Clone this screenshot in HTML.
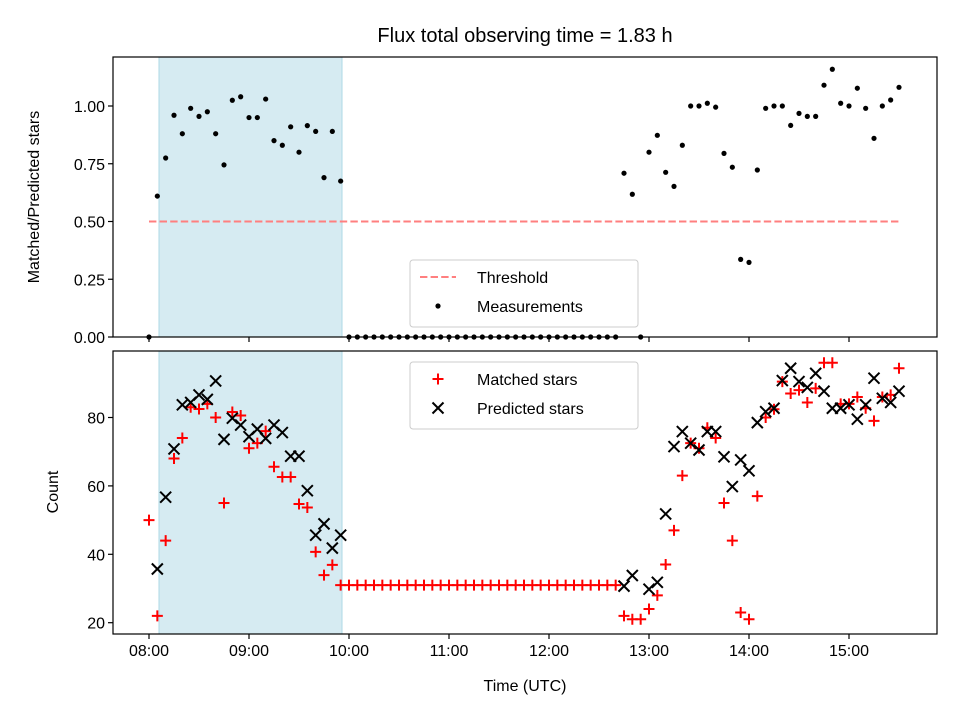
<!DOCTYPE html>
<html><head><meta charset="utf-8"><style>
html,body{margin:0;padding:0;background:#fff}
svg text{font-family:"Liberation Sans","DejaVu Sans",sans-serif}
</style></head><body>
<svg id="c" width="960" height="720" xmlns="http://www.w3.org/2000/svg"></svg>
<script>
// data: index i -> time 08:00 + 5*i minutes
const ratioIdx=[0,1,2,3,4,5,6,7,8,9,10,11,12,13,14,15,16,17,18,19,20,21,22,23,57,58,59,60,61,62,63,64,65,66,67,68,69,70,71,72,73,74,75,76,77,78,79,80,81,82,83,84,85,86,87,88,89,90];
const ratioVals=[0,0.61,0.775,0.96,0.88,0.99,0.955,0.975,0.88,0.745,1.025,1.04,0.95,0.95,1.03,0.85,0.83,0.91,0.80,0.915,0.89,0.69,0.89,0.675,0.709,0.618,0,0.80,0.873,0.713,0.652,0.83,1.0,1.0,1.012,0.995,0.795,0.735,0.336,0.323,0.723,0.99,1.0,1.0,0.916,0.968,0.955,0.955,1.09,1.159,1.012,1.0,1.077,0.99,0.86,1.0,1.026,1.081];
const zeroStart=24, zeroEnd=56;
const matchedHead=[50,22,44,68,74,83,82.5,84,80,55,81.6,80.6,71,72.5,76,65.6,62.6,62.6,54.7,53.7,40.7,33.9,36.9,31];
const matchedTail=[22,21,21,24,28,37,47,63,72.5,71,77,74,55,44,23,21,57,80,82.4,90.5,87,88,84.4,88.5,96,96,84,84,86,82.7,79,86,86.6,94.4];
const flatValue=31;
const predHead=[null,35.7,56.7,70.8,83.7,84.4,86.6,85.3,90.7,73.6,79.8,77.8,74.4,76.6,73.9,77.8,75.6,68.7,68.7,58.6,45.6,48.9,41.8,45.6];
const predTail=[30.7,33.8,null,29.8,31.8,51.8,71.5,75.9,72.5,70.5,75.9,75.9,68.5,59.8,67.6,64.4,78.5,81.7,82.7,90.8,94.4,90.5,88.8,92.9,87.7,82.7,82.7,83.7,79.5,83.7,91.5,85.6,84.4,87.7];
const tailStart=57;
const xTickLabels=["08:00","09:00","10:00","11:00","12:00","13:00","14:00","15:00"];
const topTicks=[0,0.25,0.5,0.75,1.0];
const botTicks=[20,40,60,80];
const threshold=0.5;
const spanStart=0.1, spanEnd=1.93; // hours after 08:00
const lastIdx=90;

const NS="http://www.w3.org/2000/svg";
const svg=document.getElementById('c');
function mk(t,a,p){const e=document.createElementNS(NS,t);for(const k in a)e.setAttribute(k,a[k]);(p||svg).appendChild(e);return e;}
const L=113,R=937;
const X=h=>149+(h)*100;
const tIdx=i=>i*5/60;
const T0=337,T1=57; const yT=v=>337-v*231;
const B0=634,B1=351; const yB=v=>622.7-(v-20)*3.42;

// title
let e=mk('text',{x:525,y:42,'text-anchor':'middle','font-size':20,fill:'#000'});e.textContent='Flux total observing time = 1.83 h';


function panel(top,bot,name){
  const g=mk('g',{});
  
  const s=mk('rect',{x:X(spanStart),y:top,width:X(spanEnd)-X(spanStart),height:bot-top,fill:'#add8e6','fill-opacity':0.5,stroke:'#add8e6'},g);
  
  return g;
}
const gt=panel(T1,T0,'top-panel');
const gb=panel(B1,B0,'bottom-panel');

// threshold
e=mk('line',{x1:X(0),x2:X(tIdx(lastIdx)),y1:yT(threshold),y2:yT(threshold),stroke:'#ff7f7f','stroke-width':2,'stroke-dasharray':'7.4,3.2'},gt);

// measurements
const pts=[];
ratioIdx.forEach((i,k)=>pts.push([i,ratioVals[k]]));
for(let i=zeroStart;i<=zeroEnd;i++)pts.push([i,0]);
pts.forEach(p=>{const c=mk('circle',{cx:X(tIdx(p[0])),cy:yT(p[1]),r:2.6,fill:'#000'},gt);
});

// bottom
function plus(x,y){const g=mk('path',{d:`M${x-5.5},${y}H${x+5.5}M${x},${y-5.5}V${y+5.5}`,stroke:'#f00','stroke-width':2},gb);
}
function cross(x,y){const g=mk('path',{d:`M${x-5.5},${y-5.5}L${x+5.5},${y+5.5}M${x-5.5},${y+5.5}L${x+5.5},${y-5.5}`,stroke:'#000','stroke-width':2},gb);
}
matchedHead.forEach((v,i)=>plus(X(tIdx(i)),yB(v)));
for(let i=matchedHead.length;i<tailStart;i++)plus(X(tIdx(i)),yB(flatValue));
matchedTail.forEach((v,k)=>plus(X(tIdx(tailStart+k)),yB(v)));
predHead.forEach((v,i)=>{if(v!=null)cross(X(tIdx(i)),yB(v));});
predTail.forEach((v,k)=>{if(v!=null)cross(X(tIdx(tailStart+k)),yB(v));});

// axes frames
[[T1,T0,'top-axes-frame'],[B1,B0,'bottom-axes-frame']].forEach(a=>{
 const r=mk('rect',{x:L,y:a[0],width:R-L,height:a[1]-a[0],fill:'none',stroke:'#000','stroke-width':1.2});
 });
// x ticks
xTickLabels.forEach((lab,i)=>{const x=X(i);
 mk('line',{x1:x,x2:x,y1:T0,y2:T0+5,stroke:'#000','stroke-width':1.2});
 mk('line',{x1:x,x2:x,y1:B0,y2:B0+5,stroke:'#000','stroke-width':1.2});
 const t=mk('text',{x:x,y:B0+22,'text-anchor':'middle','font-size':16});t.textContent=lab;
 });
topTicks.forEach(v=>{const y=yT(v);mk('line',{x1:L-5,x2:L,y1:y,y2:y,stroke:'#000','stroke-width':1.2});
 const t=mk('text',{x:L-8,y:y+6,'text-anchor':'end','font-size':16});t.textContent=v.toFixed(2);
 });
botTicks.forEach(v=>{const y=yB(v);mk('line',{x1:L-5,x2:L,y1:y,y2:y,stroke:'#000','stroke-width':1.2});
 const t=mk('text',{x:L-8,y:y+6,'text-anchor':'end','font-size':16});t.textContent=v;
 });
// axis titles
e=mk('text',{x:525,y:691,'text-anchor':'middle','font-size':16});e.textContent='Time (UTC)';

e=mk('text',{x:0,y:0,'text-anchor':'middle','font-size':16,transform:'translate(39,197) rotate(-90)'});e.textContent='Matched/Predicted stars';

e=mk('text',{x:0,y:0,'text-anchor':'middle','font-size':16,transform:'translate(58,492) rotate(-90)'});e.textContent='Count';


// legends
function legend(y,name,items){
 const g=mk('g',{});
 mk('rect',{x:410,y:y,width:228,height:67,rx:3,fill:'#fff','fill-opacity':0.8,stroke:'#ccc'},g);
 items.forEach((it,k)=>{const cy=y+17+k*29;it[0](g,438,cy);
  const t=mk('text',{x:477,y:cy+6,'font-size':16},g);t.textContent=it[1];
  });
}
legend(260,'top-legend',[
 [(g,x,y)=>mk('line',{x1:x-18,x2:x+18,y1:y,y2:y,stroke:'#ff7f7f','stroke-width':2,'stroke-dasharray':'7.4,3.2'},g),'Threshold'],
 [(g,x,y)=>mk('circle',{cx:x,cy:y,r:2.6,fill:'#000'},g),'Measurements']]);
legend(362,'bottom-legend',[
 [(g,x,y)=>mk('path',{d:`M${x-5.5},${y}H${x+5.5}M${x},${y-5.5}V${y+5.5}`,stroke:'#f00','stroke-width':2},g),'Matched stars'],
 [(g,x,y)=>mk('path',{d:`M${x-5.5},${y-5.5}L${x+5.5},${y+5.5}M${x-5.5},${y+5.5}L${x+5.5},${y-5.5}`,stroke:'#000','stroke-width':2},g),'Predicted stars']]);
</script>
</body></html>
